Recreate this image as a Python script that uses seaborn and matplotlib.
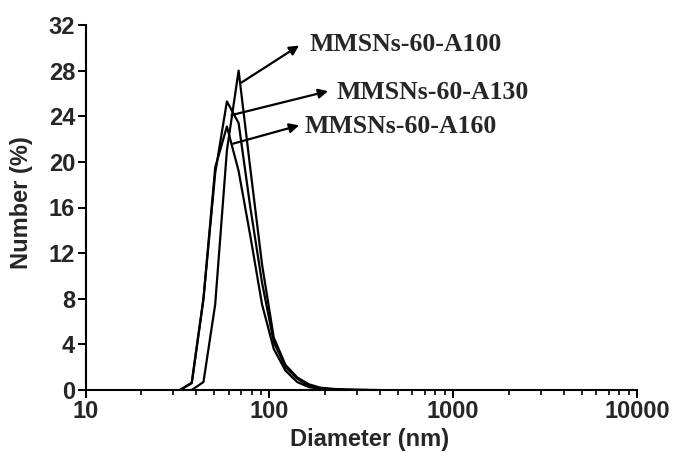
import numpy as np
import pandas as pd
import matplotlib
matplotlib.use("Agg")
import matplotlib.pyplot as plt
import matplotlib.ticker as mticker
import seaborn as sns

# ---- data (DLS size bins in nm) ----
bins = [32.67, 37.84, 43.82, 50.75, 58.77, 68.06, 78.82, 91.28, 105.7, 122.4,
        141.8, 164.2, 190.1, 220.2, 255.0, 295.3, 342.0, 396.1]

d_a100 = bins[1:]
n_a100 = [0, 0.7, 7.5, 21.0, 28.0, 19.4, 11.0, 4.6, 2.2, 1.1, 0.5, 0.2, 0.1, 0.05, 0.02, 0.01, 0]

d_a130 = bins[:17]
n_a130 = [0, 0.64, 8.0, 19.0, 25.3, 23.4, 16.0, 9.4, 4.2, 2.0, 1.0, 0.35, 0.15, 0.08, 0.04, 0.02, 0]

d_a160 = bins[:15]
n_a160 = [0, 0.6, 8.0, 19.5, 23.1, 19.2, 13.5, 7.5, 3.6, 1.7, 0.7, 0.25, 0.1, 0.03, 0]

series_names = ["MMSNs-60-A100", "MMSNs-60-A130", "MMSNs-60-A160"]
x_ticks = [10, 100, 1000, 10000]
y_ticks = [0, 4, 8, 12, 16, 20, 24, 28, 32]

# annotation anchors (arrow tail near curve, arrow head, text left point)
arrow_tail = [(70.6, 26.96), (62.3, 24.1), (63.6, 21.6)]
arrow_head = [(145.2, 30.2), (208.7, 26.2), (145.2, 23.2)]
text_pos = [(166.0, 30.3), (231.9, 26.05), (155.9, 23.07)]

frames = []
for name, d, n in zip(series_names, [d_a100, d_a130, d_a160], [n_a100, n_a130, n_a160]):
    frames.append(pd.DataFrame({"Diameter": d, "Number": n, "Sample": name}))
df = pd.concat(frames, ignore_index=True)

sns.set_style("ticks")
plt.rcParams["font.family"] = ["Liberation Sans", "DejaVu Sans"]

fig = plt.figure(figsize=(6.74, 4.57), dpi=100)
ax = fig.add_axes([85.5 / 674, 1 - 390 / 457, (637 - 85.5) / 674, (390 - 25) / 457])

for name in series_names:
    sub = df[df["Sample"] == name]
    sns.lineplot(data=sub, x="Diameter", y="Number", sort=False, estimator=None,
                 color="black", linewidth=1.6, ax=ax, legend=False)

ax.set_xscale("log")
ax.set_xlim(10, 10000)
ax.set_ylim(0, 32)
ax.set_xticks(x_ticks)
ax.xaxis.set_major_formatter(mticker.FuncFormatter(lambda v, p: f"{int(round(v))}"))
ax.xaxis.set_minor_locator(mticker.LogLocator(base=10, subs=np.arange(2, 10)))
ax.xaxis.set_minor_formatter(mticker.NullFormatter())
ax.set_yticks(y_ticks)

for s in ["top", "right"]:
    ax.spines[s].set_visible(False)
for s in ["left", "bottom"]:
    ax.spines[s].set_linewidth(1.5)
    ax.spines[s].set_color("black")

ax.tick_params(axis="both", which="major", direction="out", length=5.5, width=1.4,
               color="black", labelsize=17, pad=2)
ax.tick_params(axis="x", which="minor", direction="out", length=3.5, width=1.2, color="black")
for lab in ax.get_xticklabels() + ax.get_yticklabels():
    lab.set_fontweight("bold")

ax.set_xlabel("Diameter (nm)", fontsize=17, fontweight="bold")
ax.set_ylabel("Number (%)", fontsize=17, fontweight="bold")
ax.xaxis.set_label_coords((370 - 85.5) / 551.5, -0.105)
ax.yaxis.set_label_coords(-0.095, 0.512)

for name, tail, head, tp in zip(series_names, arrow_tail, arrow_head, text_pos):
    ax.annotate("", xy=head, xytext=tail, xycoords="data", textcoords="data",
                arrowprops=dict(arrowstyle="-|>", color="black", lw=1.6, mutation_scale=14,
                                shrinkA=0, shrinkB=0))
    ax.text(tp[0], tp[1], name, ha="left", va="center", fontsize=18.5, fontweight="bold",
            family=["Liberation Serif", "DejaVu Serif"])

fig.savefig("out.png", dpi=100)
